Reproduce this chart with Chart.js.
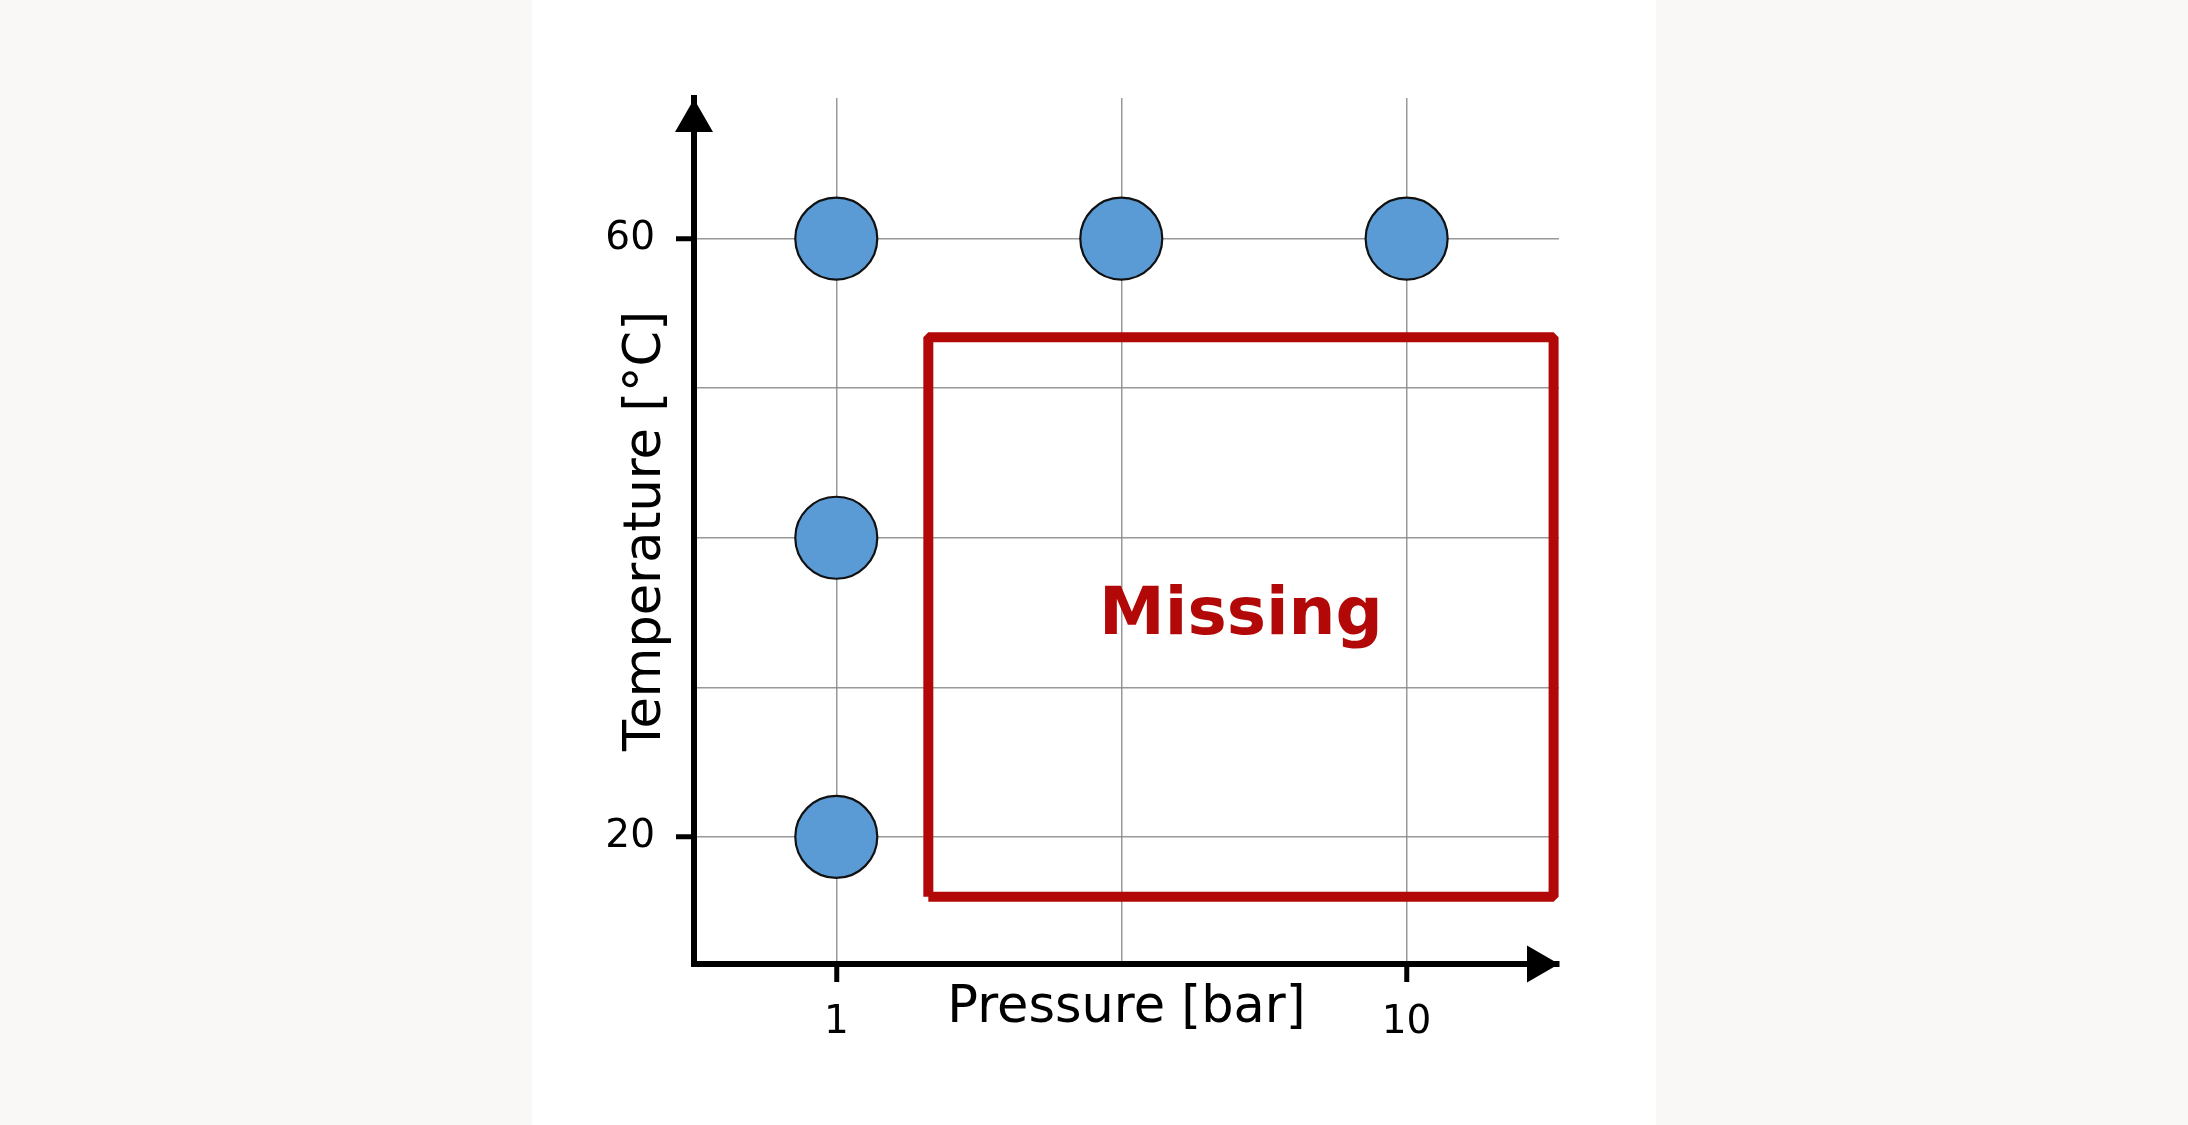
<!DOCTYPE html>
<html>
<head>
<meta charset="utf-8">
<script src="https://cdn.jsdelivr.net/npm/chart.js@4/dist/chart.umd.min.js"></script>
<style>
  html, body { margin: 0; padding: 0; background: #f9f8f6; overflow: hidden; }
  #panel { position: absolute; left: 532px; top: 0; width: 1124px; height: 1125px; background: #ffffff; }
  #wrap { position: absolute; left: 0; top: 0; width: 2188px; height: 1125px; }
</style>
</head>
<body>
<div id="panel"></div>
<div id="wrap"><canvas id="c" width="2188" height="1125"></canvas></div>
<script>
// ---- data ----
const pressure = [1, 3.16, 10, 1, 1];          // bar
const temperature = [60, 60, 60, 40, 20];      // °C
const xTickValues = [1, 3.16, 10];
const xTickLabels = ['1', '', '10'];
const yTickValues = [20, 30, 40, 50, 60];
const yTickLabels = ['20', '', '', '', '60'];
const missingX = [1.45, 1.45, 18.1, 18.1, 1.45];
const missingY = [16.0, 53.4, 53.4, 16.0, 16.0];
const missingLabel = 'Missing';
const xTitle = 'Pressure [bar]';
const yTitle = 'Temperature [°C]';

const FONT = "'DejaVu Sans', Verdana, sans-serif";
const RED = '#b30808';

const overlay = {
  id: 'overlay',
  afterDraw(chart) {
    const ctx = chart.ctx;
    const a = chart.chartArea;
    const xs = chart.scales.x, ys = chart.scales.y;
    ctx.save();
    ctx.fillStyle = '#000';
    // y-axis arrow head
    ctx.beginPath();
    ctx.moveTo(a.left, a.top + 1);
    ctx.lineTo(a.left - 19, a.top + 34);
    ctx.lineTo(a.left + 19, a.top + 34);
    ctx.closePath();
    ctx.fill();
    // x-axis arrow head
    ctx.beginPath();
    ctx.moveTo(a.right, a.bottom);
    ctx.lineTo(a.right - 32, a.bottom - 18.5);
    ctx.lineTo(a.right - 32, a.bottom + 18.5);
    ctx.closePath();
    ctx.fill();
    // corner fill
    ctx.fillRect(a.left - 3, a.bottom - 3, 6, 6);
    // "Missing" label at the centre of the region
    const cx = (xs.getPixelForValue(Math.min(...missingX)) + xs.getPixelForValue(Math.max(...missingX))) / 2;
    const cy = (ys.getPixelForValue(Math.min(...missingY)) + ys.getPixelForValue(Math.max(...missingY))) / 2;
    ctx.fillStyle = RED;
    ctx.font = "bold 66px " + FONT;
    ctx.textAlign = 'center';
    ctx.textBaseline = 'middle';
    ctx.fillText(missingLabel, cx, cy);
    ctx.restore();
  }
};

const gridColor = 'rgba(135,135,135,0.85)';

new Chart(document.getElementById('c'), {
  type: 'scatter',
  data: {
    datasets: [
      {
        type: 'line',
        data: missingX.map((x, i) => ({ x, y: missingY[i] })),
        showLine: true,
        borderColor: RED,
        borderWidth: 10,
        borderJoinStyle: 'bevel',
        pointRadius: 0,
        fill: false,
        tension: 0,
        clip: false,
        order: 2
      },
      {
        data: pressure.map((x, i) => ({ x, y: temperature[i] })),
        backgroundColor: '#5b9bd5',
        borderColor: '#111111',
        borderWidth: 2.2,
        pointRadius: 41,
        pointHoverRadius: 41,
        order: 1
      }
    ]
  },
  options: {
    responsive: false,
    animation: false,
    events: [],
    layout: { padding: { left: 0, top: 98, right: 629, bottom: 0 } },
    plugins: { legend: { display: false }, tooltip: { enabled: false } },
    scales: {
      x: {
        type: 'logarithmic',
        position: 'bottom',
        min: 0.563,
        max: 18.5,
        afterBuildTicks: (s) => { s.ticks = xTickValues.map(v => ({ value: v })); },
        afterFit: (s) => { s.height = 161; },
        ticks: {
          autoSkip: false,
          maxRotation: 0,
          padding: 17,
          color: '#000',
          font: { family: FONT, size: 39 },
          callback: (v, i) => xTickLabels[i]
        },
        grid: {
          color: gridColor,
          lineWidth: 1.5,
          drawTicks: true,
          tickLength: 18,
          tickColor: (c) => (c.tick && c.tick.label) ? '#000' : 'rgba(0,0,0,0)',
          tickWidth: 5
        },
        border: { display: true, color: '#000', width: 6 },
        title: {
          display: true,
          text: xTitle,
          color: '#000',
          font: { family: FONT, size: 51 },
          padding: { top: 0, bottom: 86 }
        }
      },
      y: {
        type: 'linear',
        position: 'left',
        min: 11.5,
        max: 69.4,
        afterBuildTicks: (s) => { s.ticks = yTickValues.map(v => ({ value: v })); },
        afterFit: (s) => { s.width = 694; },
        ticks: {
          autoSkip: false,
          padding: 21,
          color: '#000',
          font: { family: FONT, size: 39 },
          callback: (v, i) => yTickLabels[i]
        },
        grid: {
          color: gridColor,
          lineWidth: 1.5,
          drawTicks: true,
          tickLength: 18,
          tickColor: (c) => (c.tick && c.tick.label) ? '#000' : 'rgba(0,0,0,0)',
          tickWidth: 5
        },
        border: { display: true, color: '#000', width: 6 },
        title: {
          display: true,
          text: yTitle,
          color: '#000',
          font: { family: FONT, size: 51 },
          padding: { top: 616, bottom: 0 }
        }
      }
    }
  },
  plugins: [overlay]
});
</script>
</body>
</html>
